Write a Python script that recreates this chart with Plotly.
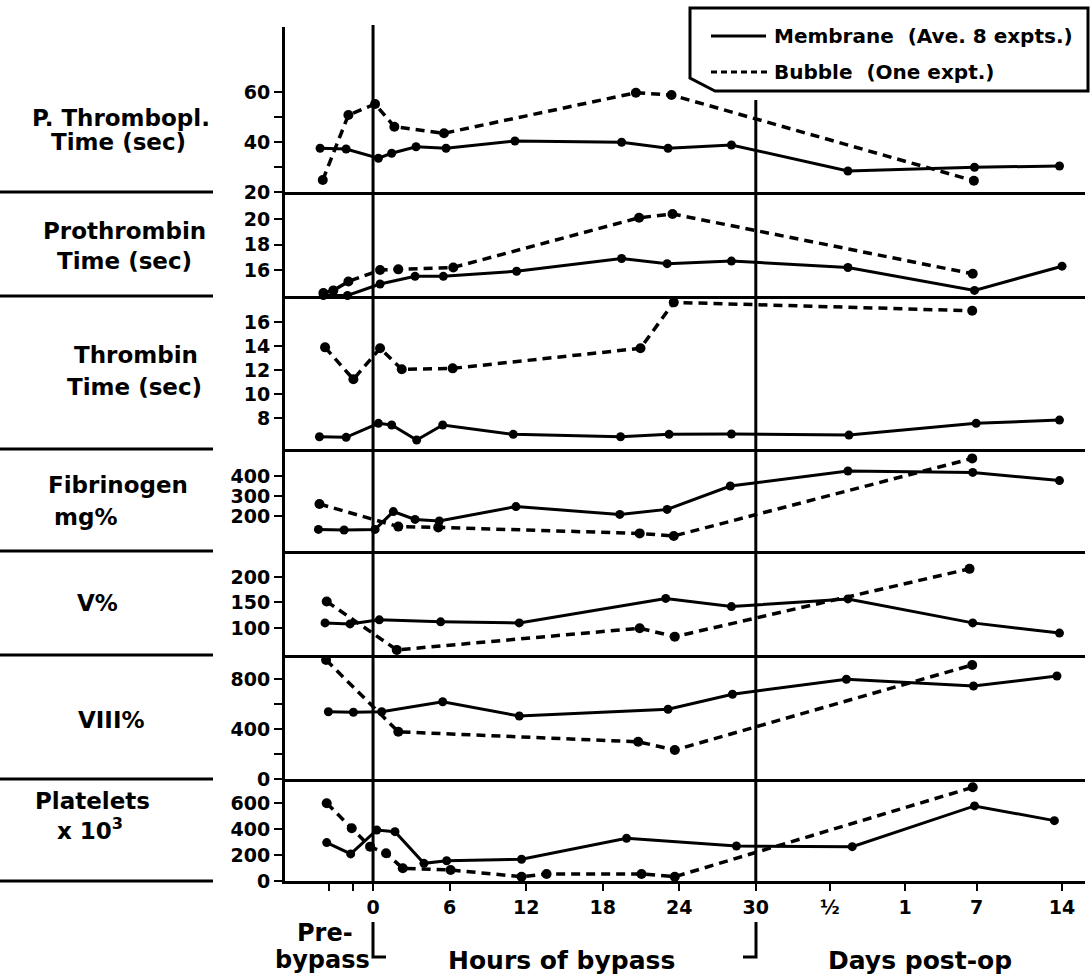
import plotly.graph_objects as go
from plotly.subplots import make_subplots

# ---------------- data (x in hour-equivalent positions; post-op days placed after 30 h) ----------------
ptt_mem_x = [-4.15, -2.11, 0.42, 1.46, 3.37, 5.72, 11.12, 19.48, 23.12, 28.09, 37.22, 47.14, 53.8]
ptt_mem_y = [37.5, 37.2, 33.5, 35.5, 38.1, 37.5, 40.4, 39.9, 37.5, 38.8, 28.4, 29.9, 30.4]
ptt_bub_x = [-3.94, -1.93, 0.16, 1.67, 5.56, 20.6, 23.39, 47.09]
ptt_bub_y = [24.8, 50.8, 55.2, 46.1, 43.5, 59.7, 58.8, 24.5]

pt_mem_x = [-3.89, -2.0, 0.55, 3.29, 5.51, 11.25, 19.48, 23.05, 28.09, 37.22, 47.14, 54.0]
pt_mem_y = [14.0, 14.0, 14.9, 15.5, 15.5, 15.9, 16.9, 16.5, 16.7, 16.2, 14.4, 16.3]
pt_bub_x = [-3.89, -3.11, -1.93, 0.55, 1.98, 6.29, 20.85, 23.47, 47.0]
pt_bub_y = [14.2, 14.4, 15.1, 16.0, 16.05, 16.2, 20.1, 20.4, 15.7]

tt_mem_x = [-4.2, -2.11, 0.42, 1.46, 3.42, 5.46, 10.99, 19.4, 23.2, 28.09, 37.3, 47.27, 53.8]
tt_mem_y = [6.44, 6.39, 7.56, 7.42, 6.17, 7.42, 6.64, 6.44, 6.64, 6.67, 6.58, 7.56, 7.83]
tt_bub_x = [-3.76, -1.54, 0.55, 2.25, 6.24, 20.96, 23.57, 46.96]
tt_bub_y = [13.89, 11.23, 13.81, 12.06, 12.14, 13.81, 17.64, 16.94]

fib_mem_x = [-4.28, -2.27, 0.16, 1.59, 3.29, 5.19, 11.2, 19.34, 23.05, 28.0, 37.22, 47.0, 53.8]
fib_mem_y = [133, 130, 133, 222, 183, 175, 247, 208, 233, 350, 425, 418, 377]
fib_bub_x = [-4.2, 1.98, 5.11, 20.9, 23.57, 46.96]
fib_bub_y = [260, 147, 143, 113, 100, 488]

v_mem_x = [-3.76, -1.8, 0.49, 5.3, 11.46, 22.94, 28.09, 37.22, 47.0, 53.8]
v_mem_y = [110, 108, 116, 112, 110, 158, 142, 157, 110, 90]
v_bub_x = [-3.63, 1.86, 20.9, 23.65, 46.75]
v_bub_y = [152, 57, 99.5, 83, 216]

viii_mem_x = [-3.5, -1.54, 0.68, 5.46, 11.46, 23.12, 28.17, 37.1, 47.06, 53.6]
viii_mem_y = [538, 534, 538, 618, 504, 558, 678, 798, 744, 824]
viii_bub_x = [-3.68, 1.98, 20.78, 23.65, 46.96]
viii_bub_y = [952, 378, 298, 232, 912]

plt_mem_x = [-3.63, -1.75, 0.29, 1.72, 3.99, 5.77, 11.64, 19.87, 28.48, 37.56, 47.14, 53.4]
plt_mem_y = [295, 208, 392, 379, 136, 156, 167, 328, 269, 264, 577, 464]
plt_bub_x = [-3.63, -1.67, -0.23, 1.02, 2.33, 6.08, 11.64, 13.6, 21.04, 23.65, 47.0]
plt_bub_y = [598, 405, 264, 213, 98, 85, 33, 54, 54, 33, 720]

x_tick_vals = [0, 6, 12, 18, 24, 30, 35.8, 41.7, 47.3, 54]
x_tick_text = ["0", "6", "12", "18", "24", "30", "½", "1", "7", "14"]
x_minor_vals = [-3.45, -1.57]

panel_labels = [["P. Thrombopl.", "Time (sec)"], ["Prothrombin", "Time (sec)"],
                ["Thrombin", "Time (sec)"], ["Fibrinogen", "mg%"], ["V%"], ["VIII%"],
                ["Platelets", "x 10<sup>3</sup>"]]

panels = [
    dict(mx=ptt_mem_x, my=ptt_mem_y, bx=ptt_bub_x, by=ptt_bub_y, rng=[20, 86],
         tv=[20, 40, 60], tt=["20", "40", "60"], minor=[30, 50]),
    dict(mx=pt_mem_x, my=pt_mem_y, bx=pt_bub_x, by=pt_bub_y, rng=[13.96, 22.12],
         tv=[16, 18, 20], tt=["16", "18", "20"], minor=[]),
    dict(mx=tt_mem_x, my=tt_mem_y, bx=tt_bub_x, by=tt_bub_y, rng=[5.42, 18.17],
         tv=[8, 10, 12, 14, 16], tt=["8", "10", "12", "14", "16"], minor=[]),
    dict(mx=fib_mem_x, my=fib_mem_y, bx=fib_bub_x, by=fib_bub_y, rng=[25, 535],
         tv=[200, 300, 400], tt=["200", "300", "400"], minor=[]),
    dict(mx=v_mem_x, my=v_mem_y, bx=v_bub_x, by=v_bub_y, rng=[47, 251],
         tv=[100, 150, 200], tt=["100", "150", "200"], minor=[]),
    dict(mx=viii_mem_x, my=viii_mem_y, bx=viii_bub_x, by=viii_bub_y, rng=[0, 992],
         tv=[0, 400, 800], tt=["0", "400", "800"], minor=[200, 600]),
    dict(mx=plt_mem_x, my=plt_mem_y, bx=plt_bub_x, by=plt_bub_y, rng=[0, 784],
         tv=[0, 200, 400, 600], tt=["0", "200", "400", "600"], minor=[]),
]

# ---------------- layout geometry ----------------
W, H = 1092, 977
ML, MR, MT, MB = 285, 7, 27, 96
PW, PH = W - ML - MR, H - MT - MB
FONT = "DejaVu Sans"


def px(x):
    return (x - ML) / PW


def py(y):
    return (H - MB - y) / PH


fig = make_subplots(rows=7, cols=1, shared_xaxes=True, vertical_spacing=0,
                    row_heights=[165, 104, 153, 102, 104, 124, 102])

for i, p in enumerate(panels):
    r = i + 1
    fig.add_trace(go.Scatter(x=p["mx"], y=p["my"], mode="lines+markers", name="Membrane (Ave. 8 expts.)",
                             line=dict(color="black", width=3), marker=dict(size=9, color="black"),
                             cliponaxis=False, showlegend=False), row=r, col=1)
    fig.add_trace(go.Scatter(x=p["bx"], y=p["by"], mode="lines+markers", name="Bubble (One expt.)",
                             line=dict(color="black", width=3.5, dash="9px,6px"),
                             marker=dict(size=10, color="black"),
                             cliponaxis=False, showlegend=False), row=r, col=1)
    fig.update_yaxes(range=p["rng"], tickvals=p["tv"], ticktext=p["tt"], showline=True,
                     linecolor="black", linewidth=3, ticks="outside", ticklen=8, tickwidth=2,
                     tickcolor="black", showgrid=False, zeroline=False,
                     tickfont=dict(family=FONT, size=19, color="black", weight="bold"),
                     row=r, col=1)
    if p["minor"]:
        fig.update_yaxes(minor=dict(tickmode="array", tickvals=p["minor"], ticks="outside",
                                    ticklen=8, tickwidth=2, tickcolor="black", showgrid=False),
                         row=r, col=1)
    fig.update_xaxes(range=[-6.9, 55.8], showline=True, linecolor="black", linewidth=3,
                     showgrid=False, zeroline=False, row=r, col=1)

fig.update_xaxes(tickvals=x_tick_vals, ticktext=x_tick_text, ticks="outside", ticklen=7,
                 tickwidth=2, tickcolor="black", showticklabels=True,
                 minor=dict(tickmode="array", tickvals=x_minor_vals, ticks="outside", ticklen=7,
                            tickwidth=2, tickcolor="black", showgrid=False),
                 tickfont=dict(family=FONT, size=19, color="black", weight="bold"), row=7, col=1)

shapes = []
# vertical reference lines at start and end of bypass
shapes.append(dict(type="line", xref="x", yref="paper", x0=0, x1=0, y0=0, y1=py(25),
                   line=dict(color="black", width=3)))
shapes.append(dict(type="line", xref="x", yref="paper", x0=30, x1=30, y0=0, y1=py(100),
                   line=dict(color="black", width=3)))
# brackets
shapes.append(dict(type="path", xref="paper", yref="paper",
                   path=f"M {px(373)},{py(922)} L {px(373)},{py(957)} L {px(386)},{py(957)}",
                   line=dict(color="black", width=3)))
shapes.append(dict(type="path", xref="paper", yref="paper",
                   path=f"M {px(756)},{py(922)} L {px(756)},{py(957)} L {px(743)},{py(957)}",
                   line=dict(color="black", width=3)))
# left separators
for yy in [192, 296, 449, 551, 655, 779, 881]:
    shapes.append(dict(type="line", xref="paper", yref="paper", x0=px(0), x1=px(213),
                       y0=py(yy), y1=py(yy), line=dict(color="black", width=3)))
# legend box
shapes.append(dict(type="path", xref="paper", yref="paper", fillcolor="white", layer="above",
                   path=(f"M {px(690)},{py(8)} L {px(1088)},{py(8)} L {px(1088)},{py(91)} "
                         f"L {px(715)},{py(91)} L {px(690)},{py(78)} Z"),
                   line=dict(color="black", width=3)))
shapes.append(dict(type="line", xref="paper", yref="paper", layer="above", x0=px(711), x1=px(766),
                   y0=py(36), y1=py(36), line=dict(color="black", width=3)))
shapes.append(dict(type="line", xref="paper", yref="paper", layer="above", x0=px(711), x1=px(768),
                   y0=py(72), y1=py(72), line=dict(color="black", width=3, dash="6px,4px")))

annotations = []


def ann(text, x, y, size, xanchor="center"):
    annotations.append(dict(text=text, x=px(x), y=py(y), xref="paper", yref="paper",
                            xanchor=xanchor, yanchor="middle", showarrow=False,
                            font=dict(family=FONT, size=size, color="black", weight="bold")))


ann("Membrane  (Ave. 8 expts.)", 772, 36, 20, "left")
ann("Bubble  (One expt.)", 772, 72, 20, "left")

label_pos = [[(121, 118), (118, 142)], [(124, 231), (124, 261)], [(136, 355), (134, 387)],
             [(118, 485), (85, 517)], [(97, 603)], [(111, 720)], [(92, 801), (90, 829)]]
for lines, poss in zip(panel_labels, label_pos):
    for t, (xx, yy) in zip(lines, poss):
        ann(t, xx, yy, 23)

ann("Pre-", 325, 933, 24)
ann("bypass", 322, 960, 24)
ann("Hours of bypass", 561, 960, 25)
ann("Days post-op", 920, 960, 25)

fig.update_layout(width=W, height=H, margin=dict(l=ML, r=MR, t=MT, b=MB),
                  paper_bgcolor="white", plot_bgcolor="white", showlegend=False,
                  shapes=shapes, annotations=annotations,
                  font=dict(family=FONT, color="black"))

fig.write_html("out.html")
